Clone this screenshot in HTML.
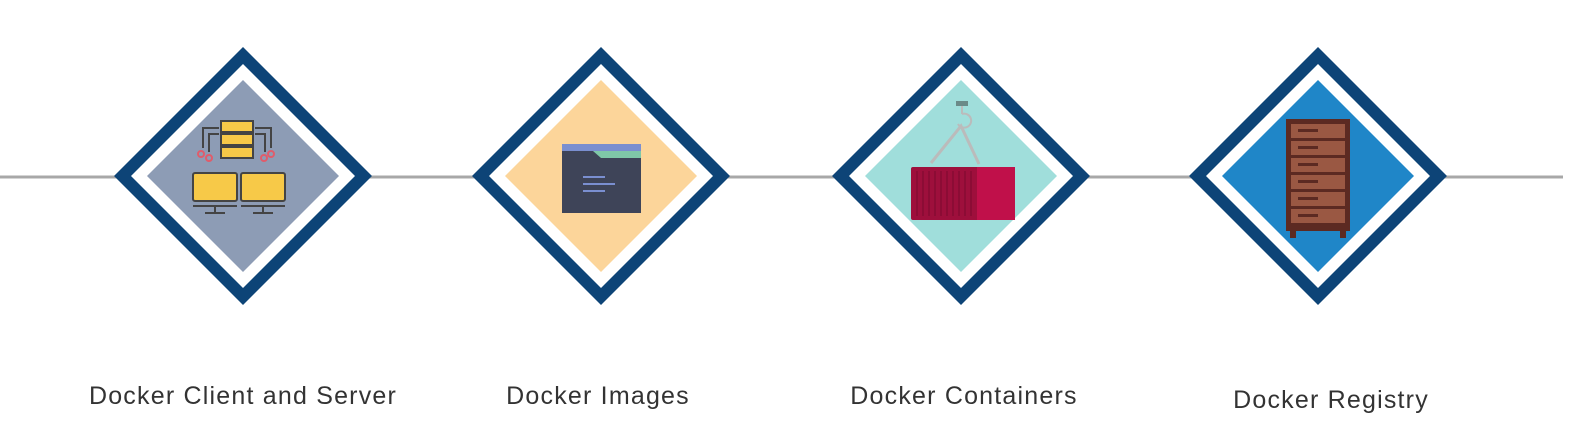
<!DOCTYPE html>
<html><head><style>
body{margin:0;background:#fff;width:1570px;height:424px;overflow:hidden;position:relative;font-family:"Liberation Sans",sans-serif;}
.l{position:absolute;font-size:25px;color:#333;letter-spacing:1.2px;white-space:nowrap;transform:translateX(-50%);}
</style></head><body>
<svg width="1570" height="424" style="position:absolute;left:0;top:0">
<line x1="0" y1="177" x2="1563" y2="177" stroke="#a8a8a8" stroke-width="3"/>
<!-- diamond 1 -->
<g transform="translate(243,176)">
<polygon points="0,-129 129,0 0,129 -129,0" fill="#0d4477"/>
<polygon points="0,-112 112,0 0,112 -112,0" fill="#fff"/>
<polygon points="0,-96 96,0 0,96 -96,0" fill="#8d9cb5"/>
<rect x="-22" y="-55" width="32" height="11" fill="#f7c948" stroke="#444" stroke-width="2"/>
<rect x="-22" y="-42" width="32" height="11" fill="#f7c948" stroke="#444" stroke-width="2"/>
<rect x="-22" y="-29" width="32" height="11" fill="#f7c948" stroke="#444" stroke-width="2"/>
<path d="M-24,-48 H-40 V-28 M-24,-42 H-34 V-24 M12,-48 H28 V-28 M12,-42 H22 V-24" fill="none" stroke="#444" stroke-width="2"/>
<circle cx="-42" cy="-22" r="3" fill="none" stroke="#e05c6b" stroke-width="2"/>
<circle cx="-34" cy="-18" r="3" fill="none" stroke="#e05c6b" stroke-width="2"/>
<circle cx="28" cy="-22" r="3" fill="none" stroke="#e05c6b" stroke-width="2"/>
<circle cx="21" cy="-18" r="3" fill="none" stroke="#e05c6b" stroke-width="2"/>
<rect x="-50" y="-3" width="44" height="28" rx="2" fill="#f7c948" stroke="#444" stroke-width="2"/>
<rect x="-2" y="-3" width="44" height="28" rx="2" fill="#f7c948" stroke="#444" stroke-width="2"/>
<path d="M-50,30 H-6 M-2,30 H42 M-28,30 V36 M20,30 V36 M-38,37 H-18 M10,37 H30" stroke="#444" stroke-width="2"/>
</g>
<!-- diamond 2 -->
<g transform="translate(601,176)">
<polygon points="0,-129 129,0 0,129 -129,0" fill="#0d4477"/>
<polygon points="0,-112 112,0 0,112 -112,0" fill="#fff"/>
<polygon points="0,-96 96,0 0,96 -96,0" fill="#fcd59a"/>
<rect x="-39" y="-32" width="79" height="69" fill="#3e4458"/>
<polygon points="-39,-32 40,-32 40,-25 -39,-25" fill="#7a8fd0"/>
<polygon points="-8,-25 40,-25 40,-18 0,-18" fill="#7fc8a8"/>
<path d="M-18,1 H4 M-18,8 H14 M-18,15 H4" stroke="#7a8fd0" stroke-width="2"/>
</g>
<!-- diamond 3 -->
<g transform="translate(961,176)">
<polygon points="0,-129 129,0 0,129 -129,0" fill="#0d4477"/>
<polygon points="0,-112 112,0 0,112 -112,0" fill="#fff"/>
<polygon points="0,-96 96,0 0,96 -96,0" fill="#a0dedb"/>
<rect x="-5" y="-75" width="12" height="5" fill="#6b8a88"/>
<path d="M1,-70 V-62 M1,-62 a7,7 0 1 1 -4,10" fill="none" stroke="#bbb" stroke-width="2"/>
<path d="M-30,-13 L0,-50 L18,-12" fill="none" stroke="#bbb" stroke-width="3"/>
<rect x="-50" y="-9" width="104" height="53" rx="2" fill="#9e0f3c"/>
<rect x="16" y="-9" width="38" height="53" fill="#c0104a"/>
<path d="M-44,-5 V40 M-38,-5 V40 M-32,-5 V40 M-26,-5 V40 M-20,-5 V40 M-14,-5 V40 M-8,-5 V40 M-2,-5 V40 M4,-5 V40 M10,-5 V40" stroke="#860c33" stroke-width="1.5"/>
</g>
<!-- diamond 4 -->
<g transform="translate(1318,176)">
<polygon points="0,-129 129,0 0,129 -129,0" fill="#0d4477"/>
<polygon points="0,-112 112,0 0,112 -112,0" fill="#fff"/>
<polygon points="0,-96 96,0 0,96 -96,0" fill="#1f86c8"/>
<rect x="-32" y="-57" width="64" height="112" fill="#5c2a22"/>
<rect x="-28" y="54" width="6" height="8" fill="#5c2a22"/>
<rect x="22" y="54" width="6" height="8" fill="#5c2a22"/>
<g fill="#9a5843">
<rect x="-27" y="-52" width="54" height="14"/><rect x="-27" y="-35" width="54" height="14"/>
<rect x="-27" y="-18" width="54" height="14"/><rect x="-27" y="-1" width="54" height="14"/>
<rect x="-27" y="16" width="54" height="14"/><rect x="-27" y="33" width="54" height="14"/>
</g>
<g fill="#5c2a22">
<rect x="-20" y="-47" width="20" height="3"/><rect x="-20" y="-30" width="20" height="3"/>
<rect x="-20" y="-13" width="20" height="3"/><rect x="-20" y="4" width="20" height="3"/>
<rect x="-20" y="21" width="20" height="3"/><rect x="-20" y="38" width="20" height="3"/>
</g>
</g>
</svg>
<div class="l" style="left:243px;top:382px">Docker Client and Server</div>
<div class="l" style="left:598px;top:382px">Docker Images</div>
<div class="l" style="left:964px;top:382px">Docker Containers</div>
<div class="l" style="left:1331px;top:386px">Docker Registry</div>
</body></html>
